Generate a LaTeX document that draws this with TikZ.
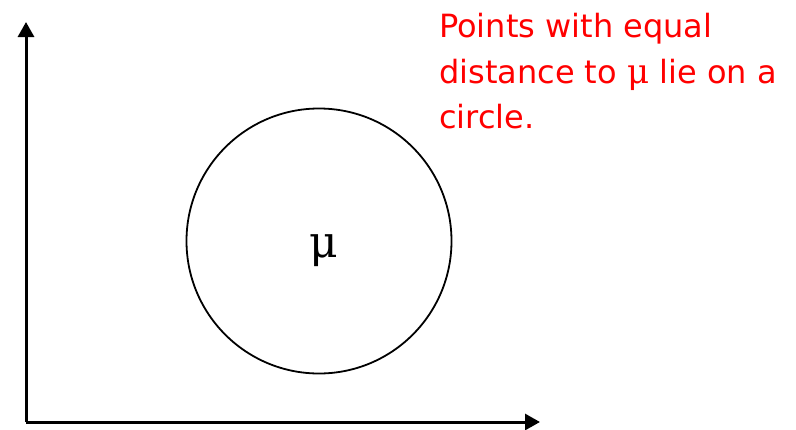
\documentclass[tikz,border=0pt]{standalone}
\usepackage{fontspec}
\setmainfont{DejaVu Sans}
\newfontfamily\serifmu{DejaVu Serif}
\usetikzlibrary{arrows.meta}
\tikzset{
  axis/.style={line width=3pt,-{Triangle[length=15pt,width=16pt]}},
  ring/.style={draw,line width=1.8pt},
  note/.style={anchor=base west,inner sep=0pt,text=red,font=\fontsize{32}{38}\selectfont},
  mulabel/.style={inner sep=0pt,anchor=base,font=\serifmu\fontsize{44}{48}\selectfont}
}
\begin{document}
\begin{tikzpicture}[x=1pt,y=-1pt]
\useasboundingbox (0,0) rectangle (796,429);
\coordinate (o) at (26,422);
\coordinate (ytip) at (26,22);
\coordinate (xtip) at (540,422);
\draw[axis] (o) -- (ytip);
\draw[axis] (o) -- (xtip);
\node[ring,circle,minimum size=265pt] (c) at (319,241) {};
\node[mulabel] (mu) at (324,257) {μ};
\node[note] (t1) at (439,37) {Points with equal};
\node[note] (t2) at (439,83) {distance to {\serifmu\fontsize{34}{38}\selectfont μ} lie on a};
\node[note] (t3) at (439,128) {circle.};
\end{tikzpicture}
\end{document}
